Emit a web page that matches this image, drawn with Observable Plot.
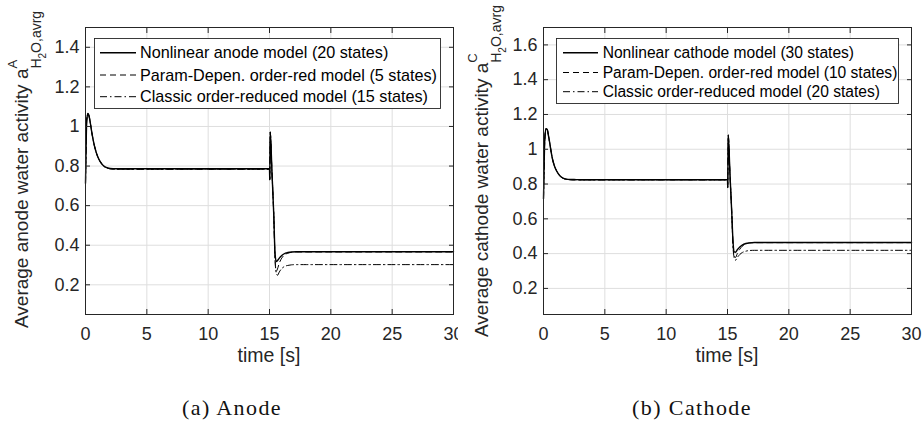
<!DOCTYPE html>
<html>
<head>
<meta charset="utf-8">
<script src="https://cdn.jsdelivr.net/npm/d3@7"></script>
<script src="https://cdn.jsdelivr.net/npm/@observablehq/plot@0.6"></script>
<style>
  html, body { margin: 0; padding: 0; background: #fff; }
  #wrap { position: relative; width: 923px; height: 426px; overflow: hidden; background: #fff; }
  .panel { position: absolute; top: 0; }
  .cap { position: absolute; width: 240px; text-align: center; font-family: "Liberation Serif", "Times New Roman", serif;
         font-size: 22px; line-height: 22px; letter-spacing: 1.4px; color: #111; }
</style>
</head>
<body>
<div id="wrap">
  <div id="left" class="panel" style="left:0px"></div>
  <div id="right" class="panel" style="left:458px"></div>
  <div class="cap" style="left:112px; top:397px">(a) Anode</div>
  <div class="cap" style="left:572px; top:397px">(b) Cathode</div>
</div>
<script>
// ---------- data ----------
const xTicks = [0, 5, 10, 15, 20, 25, 30];
const anodeYTicks = [0.2, 0.4, 0.6, 0.8, 1, 1.2, 1.4];
const cathodeYTicks = [0.2, 0.4, 0.6, 0.8, 1, 1.2, 1.4, 1.6];

const anodeTime = [0, 0.05, 0.1, 0.2, 0.3, 0.4, 0.5, 0.6, 0.7, 0.8, 0.9, 1.0, 1.2, 1.4, 1.6, 1.8, 2.0, 2.5, 3,
  15.0, 15.02, 15.06, 15.2, 15.35, 15.45, 15.55, 15.65, 15.8, 16.0, 16.2, 16.5, 16.8, 17.2, 18, 30];
const anodeNonlinear = [0.713, 0.90, 1.03, 1.066, 1.05, 1.015, 0.975, 0.94, 0.91, 0.885, 0.864, 0.847, 0.822, 0.806, 0.796, 0.791, 0.788, 0.786, 0.786,
  0.786, 0.73, 0.974, 0.77, 0.55, 0.36, 0.318, 0.322, 0.335, 0.348, 0.357, 0.363, 0.366, 0.367, 0.367, 0.367];
const anodeParamDep = [0.713, 0.90, 1.03, 1.066, 1.05, 1.015, 0.975, 0.94, 0.91, 0.885, 0.864, 0.847, 0.822, 0.805, 0.794, 0.789, 0.786, 0.784, 0.784,
  0.784, 0.73, 0.97, 0.77, 0.55, 0.34, 0.268, 0.28, 0.31, 0.335, 0.35, 0.36, 0.364, 0.366, 0.366, 0.366];
const anodeClassic = [0.713, 0.90, 1.03, 1.066, 1.05, 1.015, 0.975, 0.94, 0.91, 0.885, 0.864, 0.847, 0.822, 0.805, 0.794, 0.789, 0.786, 0.784, 0.784,
  0.784, 0.73, 0.97, 0.77, 0.55, 0.33, 0.26, 0.248, 0.265, 0.282, 0.292, 0.298, 0.301, 0.302, 0.302, 0.302];

const cathodeTime = [0, 0.05, 0.1, 0.2, 0.3, 0.4, 0.5, 0.6, 0.7, 0.8, 0.9, 1.0, 1.2, 1.4, 1.6, 1.8, 2.0, 2.5, 3,
  15.0, 15.02, 15.06, 15.2, 15.35, 15.45, 15.55, 15.65, 15.8, 16.0, 16.2, 16.5, 16.8, 17.2, 18, 30];
const cathodeNonlinear = [0.716, 0.90, 1.05, 1.118, 1.115, 1.08, 1.04, 0.995, 0.955, 0.925, 0.902, 0.885, 0.86, 0.843, 0.834, 0.829, 0.827, 0.826, 0.825,
  0.825, 0.78, 1.084, 0.86, 0.63, 0.47, 0.41, 0.408, 0.422, 0.438, 0.449, 0.458, 0.462, 0.464, 0.464, 0.464];
const cathodeParamDep = [0.716, 0.90, 1.05, 1.118, 1.115, 1.08, 1.04, 0.995, 0.955, 0.925, 0.902, 0.885, 0.86, 0.842, 0.833, 0.828, 0.826, 0.824, 0.824,
  0.824, 0.78, 1.08, 0.86, 0.63, 0.45, 0.385, 0.378, 0.40, 0.425, 0.442, 0.455, 0.461, 0.463, 0.463, 0.463];
const cathodeClassic = [0.716, 0.90, 1.05, 1.118, 1.115, 1.08, 1.04, 0.995, 0.955, 0.925, 0.902, 0.885, 0.86, 0.842, 0.833, 0.828, 0.826, 0.824, 0.824,
  0.824, 0.78, 1.08, 0.86, 0.63, 0.44, 0.375, 0.362, 0.378, 0.395, 0.406, 0.414, 0.418, 0.419, 0.419, 0.419];

const anodeLegend = ["Nonlinear anode model (20 states)", "Param-Depen. order-red model (5 states)", "Classic order-reduced model (15 states)"];
const cathodeLegend = ["Nonlinear cathode model (30 states)", "Param-Depen. order-red model (10 states)", "Classic order-reduced model (20 states)"];

// ---------- drawing ----------
const INK = "#262626";
const styles = [
  {dash: null, width: 1.4},
  {dash: "6,4", width: 1},
  {dash: "7,3,1.5,3", width: 1}
];

function drawPanel(el, cfg) {
  const seriesRows = cfg.series.map(vals => cfg.time.map((t, j) => ({t, v: vals[j]})));
  const svg = Plot.plot({
    width: 460, height: 370,
    marginLeft: 85, marginRight: 7, marginTop: 27, marginBottom: 56,
    style: {fontFamily: "'Liberation Sans', Arial, sans-serif", fontSize: "18px", color: INK, background: "#fff", overflow: "visible"},
    x: {domain: [0, 30]},
    y: {domain: cfg.yDomain},
    marks: [
      Plot.gridX(xTicks, {stroke: "#dedede", strokeOpacity: 1, strokeWidth: 1}),
      Plot.gridY(cfg.yTicks, {stroke: "#dedede", strokeOpacity: 1, strokeWidth: 1}),
      ...seriesRows.map((rows, i) => Plot.line(rows, {
        x: "t", y: "v", curve: "monotone-x", stroke: "#000",
        strokeWidth: styles[i].width, strokeDasharray: styles[i].dash
      })),
      Plot.frame({stroke: INK, strokeWidth: 1}),
      Plot.axisX(xTicks, {anchor: "bottom", tickSize: -5, tickFormat: () => "", label: null}),
      Plot.axisX(xTicks, {anchor: "top", tickSize: -5, tickFormat: () => "", label: null}),
      Plot.axisY(cfg.yTicks, {anchor: "left", tickSize: -5, tickFormat: () => "", label: null}),
      Plot.axisY(cfg.yTicks, {anchor: "right", tickSize: -5, tickFormat: () => "", label: null}),
      Plot.axisX(xTicks, {anchor: "bottom", tickSize: 0, tickPadding: 12.5, tickFormat: d => String(d), label: null, fontSize: 18}),
      Plot.axisY(cfg.yTicks, {anchor: "left", tickSize: 0, tickPadding: 6, tickFormat: d => String(d), label: null, fontSize: 18})
    ]
  });
  el.appendChild(svg);
  const s = d3.select(svg);
  const ff = "'Liberation Sans', Arial, sans-serif";

  // x label
  s.append("text").attr("x", 269).attr("y", 362).attr("text-anchor", "middle")
    .attr("font-family", ff).attr("font-size", 19.5).attr("fill", INK).text("time [s]");

  // y label with super/subscripts
  const yl = s.append("text")
    .attr("transform", `translate(${cfg.ylab[0]},${cfg.ylab[1]}) rotate(-90)`)
    .attr("text-anchor", "start")
    .attr("font-family", ff).attr("font-size", 19).attr("fill", INK);
  yl.append("tspan").text(cfg.ylabelMain);
  yl.append("tspan").attr("font-size", 13).attr("dy", -11).text(cfg.ylabelSup);
  yl.append("tspan").attr("font-size", 14).attr("dx", -cfg.supW).attr("dy", 24).text("H");
  yl.append("tspan").attr("font-size", 10).attr("dy", 5).text("2");
  yl.append("tspan").attr("font-size", 14).attr("dy", -5).text("O,avrg");

  // legend
  const L = cfg.legendBox;
  const lg = s.append("g").attr("text-anchor", "start");
  lg.append("rect").attr("x", L.x0).attr("y", L.y0).attr("width", L.x1 - L.x0).attr("height", L.y1 - L.y0)
    .attr("fill", "#fff").attr("stroke", INK).attr("stroke-width", 0.9);
  cfg.legend.forEach((label, i) => {
    const y = L.rows[i];
    lg.append("line").attr("x1", L.s0).attr("x2", L.s1).attr("y1", y).attr("y2", y)
      .attr("stroke", "#000").attr("stroke-width", styles[i].width)
      .attr("stroke-dasharray", styles[i].dash);
    lg.append("text").attr("x", L.tx).attr("y", y).attr("dy", "0.34em").attr("text-anchor", "start")
      .attr("font-family", ff).attr("font-size", L.fs).attr("fill", "#000").text(label);
  });
}

drawPanel(document.getElementById("left"), {
  time: anodeTime,
  series: [anodeNonlinear, anodeParamDep, anodeClassic],
  yDomain: [0.05, 1.5],
  yTicks: anodeYTicks,
  legend: anodeLegend,
  ylabelMain: "Average anode water activity a",
  ylabelSup: "A",
  supW: 8.7,
  ylab: [28, 328],
  legendBox: {x0: 94.5, y0: 38.5, x1: 440.5, y1: 108.5, s0: 100, s1: 136, tx: 140, rows: [52.7, 75, 96.7], fs: 16.2}
});

drawPanel(document.getElementById("right"), {
  time: cathodeTime,
  series: [cathodeNonlinear, cathodeParamDep, cathodeClassic],
  yDomain: [0.05, 1.7],
  yTicks: cathodeYTicks,
  legend: cathodeLegend,
  ylabelMain: "Average cathode water activity a",
  ylabelSup: "C",
  supW: 9.4,
  ylab: [30, 337],
  legendBox: {x0: 98.5, y0: 38.5, x1: 440.5, y1: 103.5, s0: 105, s1: 140, tx: 144.7, rows: [52.7, 72.5, 91.7], fs: 15.6}
});
</script>
</body>
</html>
